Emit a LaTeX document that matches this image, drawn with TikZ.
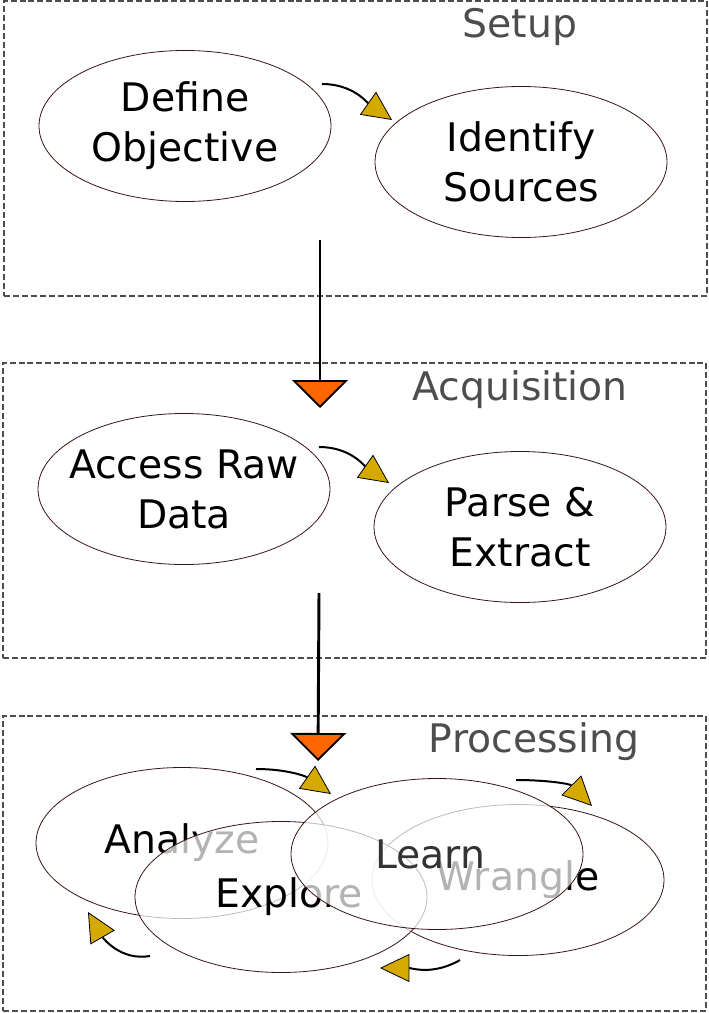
\documentclass[tikz,border=0pt]{standalone}
\usepackage{fontspec}
\setmainfont{DejaVu Sans}
\usetikzlibrary{shapes.geometric,arrows.meta}
\definecolor{edgebr}{HTML}{3A1414}
\definecolor{gold}{HTML}{D4AA00}
\definecolor{orng}{HTML}{FF6600}
\definecolor{ttl}{HTML}{4D4D4D}
\newcommand{\zb}[1]{\makebox[0pt]{#1}}
\begin{document}
\begin{tikzpicture}[x=0.75pt,y=-0.75pt,
  panel/.style={draw=ttl,dash pattern=on 4.5pt off 2.2pt,line width=0.9pt},
  ptitle/.style={text=ttl,font=\fontsize{29.5}{36}\selectfont},
  stage/.style={ellipse,draw=edgebr,line width=0.6pt,fill=white,fill opacity=0.7,text opacity=1,
    minimum width=292*0.75pt,minimum height=151*0.75pt,inner sep=0pt,align=center,
    font=\fontsize{29.5}{37.5}\selectfont},
  bigarr/.style={line width=2.2pt,-{Triangle[width=42pt,length=21pt,fill=orng,line width=1.4pt]}},
  smallarr/.style={line width=1.5pt,-{Triangle[width=21pt,length=22pt,fill=gold,line width=0.6pt]}}]
\useasboundingbox (0,0) rectangle (708,1013);
\node[panel,minimum width=703*0.75pt,minimum height=295*0.75pt,inner sep=0pt] (setup) at (355.5,148.5) {};
\node[panel,minimum width=703*0.75pt,minimum height=295*0.75pt,inner sep=0pt] (acq) at (354.5,510.5) {};
\node[panel,minimum width=703*0.75pt,minimum height=295*0.75pt,inner sep=0pt] (proc) at (354.5,863.5) {};
\node[ptitle] (t1) at (520,27) {Setup};
\node[ptitle] (t2) at (520,390) {Acquisition};
\node[ptitle] (t3) at (534,742) {Processing};
\node[stage] (def) at (185,126) {\zb{Define}\\\zb{Objective}};
\node[stage] (ids) at (521,162) {\zb{Identify}\\\zb{Sources}};
\node[stage] (acc) at (184,489) {\zb{Access Raw}\\\zb{Data}};
\node[stage] (par) at (520,527) {\zb{Parse \&}\\\zb{Extract}};
\node[stage] (ana) at (182,843) {\zb{Analyze}};
\node[stage] (wra) at (518,880) {\zb{Wrangle}};
\node[stage] (exp) at (281,897) {\zb{\hspace{12pt}Explore}};
\node[stage,text=black!80] (lea) at (437,854) {\zb{\hspace{-10pt}Learn}};
\coordinate (s1) at (320,240); \coordinate (e1) at (320,408);
\coordinate (s2) at (319,593); \coordinate (e2) at (318,761);
\draw[bigarr] (s1) -- (e1);
\draw[bigarr] (s2) -- (e2);
\coordinate (a1) at (322,84); \coordinate (b1) at (392,120);
\coordinate (a2) at (319,447); \coordinate (b2) at (389,483);
\coordinate (a3) at (256,769); \coordinate (b3) at (331,794);
\coordinate (a4) at (516,780); \coordinate (b4) at (592,806);
\coordinate (a5) at (460,960); \coordinate (b5) at (380,968);
\coordinate (a6) at (150,956); \coordinate (b6) at (88,912);
\draw[smallarr] (a1) to[out=0,in=145] (b1);
\draw[smallarr] (a2) to[out=0,in=145] (b2);
\draw[smallarr] (a3) to[out=0,in=145] (b3);
\draw[smallarr] (a4) to[out=0,in=135] (b4);
\draw[smallarr] (a5) to[out=210,in=0] (b5);
\draw[smallarr] (a6) to[out=190,in=300] (b6);
\end{tikzpicture}
\end{document}
